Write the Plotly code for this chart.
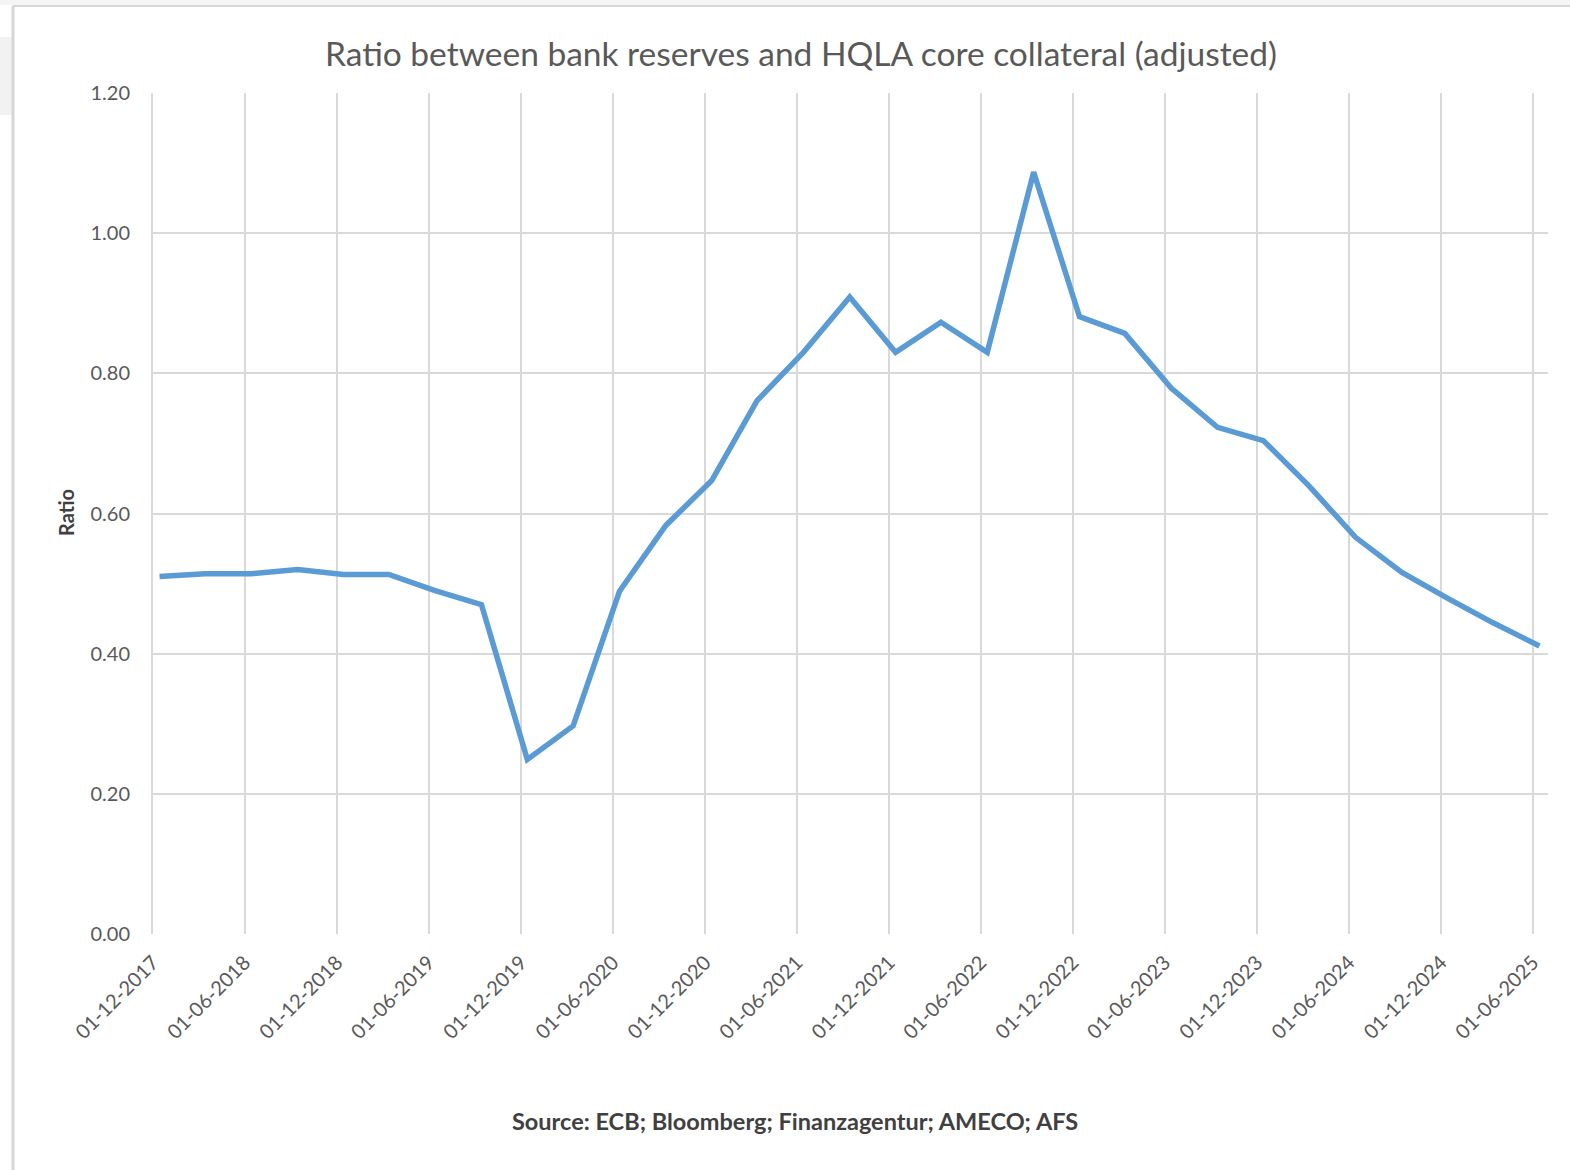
import pandas as pd
import plotly.graph_objects as go

# Quarterly observations (mid-month), Dec 2017 .. Jun 2025
dates = pd.date_range("2017-12-01", periods=31, freq="3MS") + pd.Timedelta(days=13)
ratio = [0.510, 0.514, 0.514, 0.520, 0.513, 0.513, 0.490, 0.470, 0.249, 0.297,
         0.489, 0.583, 0.647, 0.761, 0.830, 0.909, 0.830, 0.873, 0.830, 1.087,
         0.881, 0.857, 0.779, 0.723, 0.704, 0.639, 0.566, 0.516, 0.479, 0.444,
         0.411]

# Semi-annual axis ticks
tick_dates = pd.date_range("2017-12-01", "2025-06-01", freq="6MS")
tick_text = [d.strftime("%d-%m-%Y") for d in tick_dates]
y_ticks = [0.0, 0.2, 0.4, 0.6, 0.8, 1.0, 1.2]

title_text = "Ratio between bank reserves and HQLA core collateral (adjusted)"
source_text = "Source: ECB; Bloomberg; Finanzagentur; AMECO; AFS"
y_title = "Ratio"

W, H = 1570, 1170
ML, MR, MT, MB = 153, 22, 93, 236
PW, PH = W - ML - MR, H - MT - MB


def px_x(x):
    return (x - ML) / PW


def px_y(y):
    return 1 - (y - MT) / PH


FONT = "Lato, 'Open Sans', sans-serif"
GRID = "#d9d9d9"

fig = go.Figure()
fig.add_trace(go.Scatter(
    x=dates, y=ratio, mode="lines",
    line=dict(color="#5B9BD5", width=5.5),
    showlegend=False, hoverinfo="x+y",
))

fig.update_layout(
    width=W, height=H,
    margin=dict(l=ML, r=MR, t=MT, b=MB),
    paper_bgcolor="white", plot_bgcolor="white",
    title=dict(text=title_text, x=801 / W, xanchor="center",
               y=1 - 54 / H, yanchor="middle",
               font=dict(family=FONT, size=33.5, color="#595959")),
    xaxis=dict(type="date", range=["2017-12-01", "2025-07-01"],
               tickvals=tick_dates, ticktext=tick_text, tickangle=-45,
               tickfont=dict(family=FONT, size=20, color="#595959"),
               showgrid=True, gridcolor=GRID, gridwidth=2,
               showline=False, zeroline=False, ticks="", ticklabelstandoff=12),
    yaxis=dict(range=[0, 1.2], tickvals=y_ticks, tickformat=".2f",
               tickfont=dict(family=FONT, size=20, color="#595959"),
               showgrid=True, gridcolor=GRID, gridwidth=2,
               showline=True, linecolor=GRID, linewidth=2, mirror=False,
               zeroline=False, ticks="", ticklabelstandoff=17),
    annotations=[
        dict(text=y_title, textangle=-90, xref="paper", yref="paper",
             x=px_x(66), y=px_y(513), showarrow=False,
             xanchor="center", yanchor="middle",
             font=dict(family=FONT, size=20, color="#404040", weight="bold")),
        dict(text=source_text, xref="paper", yref="paper",
             x=px_x(795), y=px_y(1121), showarrow=False,
             xanchor="center", yanchor="middle",
             font=dict(family=FONT, size=23.5, color="#404040", weight="bold")),
    ],
    shapes=[
        # thin window band across the top and the chart-area frame
        dict(type="rect", xref="paper", yref="paper",
             x0=px_x(0), x1=px_x(W), y0=px_y(0), y1=px_y(5),
             line=dict(width=0), fillcolor="#f4f3f6", layer="below"),
        dict(type="rect", xref="paper", yref="paper",
             x0=px_x(0), x1=px_x(12), y0=px_y(37), y1=px_y(115),
             line=dict(width=0), fillcolor="#f2f2f3", layer="below"),
        dict(type="line", xref="paper", yref="paper",
             x0=px_x(13), x1=px_x(W), y0=px_y(6), y1=px_y(6),
             line=dict(color="#d6d6d6", width=2)),
        dict(type="line", xref="paper", yref="paper",
             x0=px_x(13), x1=px_x(13), y0=px_y(6), y1=px_y(H),
             line=dict(color="#d6d6d6", width=3)),
    ],
)

fig.write_html("out.html")
